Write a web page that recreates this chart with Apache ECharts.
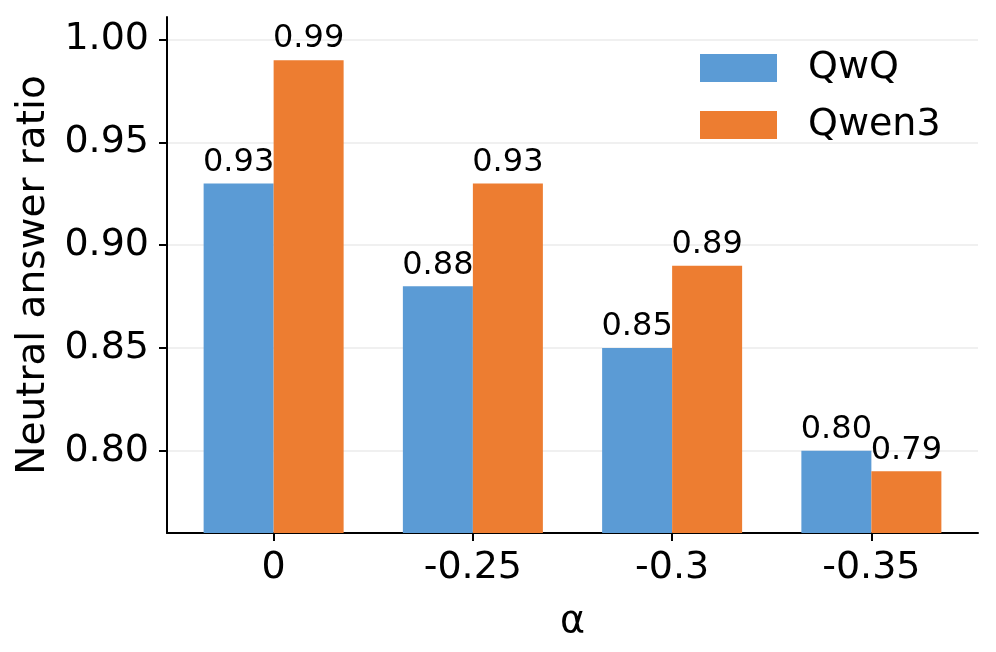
<!DOCTYPE html>
<html><head><meta charset="utf-8">
<script src="https://cdn.jsdelivr.net/npm/echarts@6/dist/echarts.min.js"></script>
<style>html,body{margin:0;padding:0;background:#fff}#c{width:996px;height:652px}</style>
</head><body><div id="c"></div>
<script>
const categories = ['0', '-0.25', '-0.3', '-0.35'];
const qwq = [0.93, 0.88, 0.85, 0.80];
const qwen3 = [0.99, 0.93, 0.89, 0.79];
const yTicks = [0.80, 0.85, 0.90, 0.95, 1.00];
const seriesNames = ['QwQ', 'Qwen3'];

const FONT = 'DejaVu Sans';
const chart = echarts.init(document.getElementById('c'), null, {renderer: 'canvas'});
const labelCfg = {show: true, position: 'top', distance: 5, color: '#000', fontFamily: FONT, fontSize: 32,
  formatter: p => p.value.toFixed(2)};
chart.setOption({
  animation: false,
  backgroundColor: '#fff',
  textStyle: {fontFamily: FONT, color: '#000'},
  grid: [
    {left: 174, right: 25, top: 17, bottom: 119, containLabel: false},
    {left: 167, right: 18, top: 17, bottom: 119, containLabel: false}
  ],
  legend: {
    data: seriesNames, left: 700, top: 49, padding: 0, orient: 'vertical', itemWidth: 77, itemHeight: 28, itemGap: 19,
    icon: 'rect', textStyle: {fontFamily: FONT, fontSize: 38, color: '#000', padding: [0, 0, 0, 26]}
  },
  xAxis: [
    {type: 'category', gridIndex: 0, data: categories, boundaryGap: true,
     axisLine: {show: false}, axisTick: {show: true, alignWithLabel: true, length: 8, lineStyle: {color: '#000', width: 2}},
     axisLabel: {color: '#000', fontFamily: FONT, fontSize: 38, margin: 16},
     splitLine: {show: false}},
    {type: 'value', gridIndex: 1, min: 0, max: 1, position: 'bottom',
     axisLine: {show: true, lineStyle: {color: '#000', width: 2}}, axisTick: {show: false}, axisLabel: {show: false},
     splitLine: {show: false},
     name: 'α', nameLocation: 'middle', nameGap: 70, nameTextStyle: {fontFamily: FONT, fontSize: 38, color: '#000'}}
  ],
  yAxis: [
    {type: 'value', gridIndex: 0, min: 0.76, max: 1.011, offset: 7,
     axisLine: {show: true, lineStyle: {color: '#000', width: 2}},
     axisTick: {show: true, length: 8, customValues: yTicks, lineStyle: {color: '#000', width: 2}},
     axisLabel: {color: '#000', fontFamily: FONT, fontSize: 38, margin: 18, customValues: yTicks, formatter: v => v.toFixed(2)},
     splitLine: {show: false},
     name: 'Neutral answer ratio', nameLocation: 'middle', nameGap: 111, nameRotate: 90,
     nameTextStyle: {fontFamily: FONT, fontSize: 39, color: '#000'}},
    {type: 'value', gridIndex: 1, min: 0.76, max: 1.011,
     axisLine: {show: false}, axisTick: {show: false, customValues: yTicks}, axisLabel: {show: false, customValues: yTicks},
     splitLine: {show: true, lineStyle: {color: '#ebebeb', width: 1.5}}}
  ],
  series: [
    {name: seriesNames[0], type: 'bar', xAxisIndex: 0, yAxisIndex: 0, data: qwq, barWidth: 70, barGap: '0%',
     itemStyle: {color: '#5B9BD5'}, label: labelCfg, z: 3},
    {name: seriesNames[1], type: 'bar', xAxisIndex: 0, yAxisIndex: 0, data: qwen3, barWidth: 70, barGap: '0%',
     itemStyle: {color: '#ED7D31'}, label: labelCfg, z: 3}
  ]
});
</script></body></html>
